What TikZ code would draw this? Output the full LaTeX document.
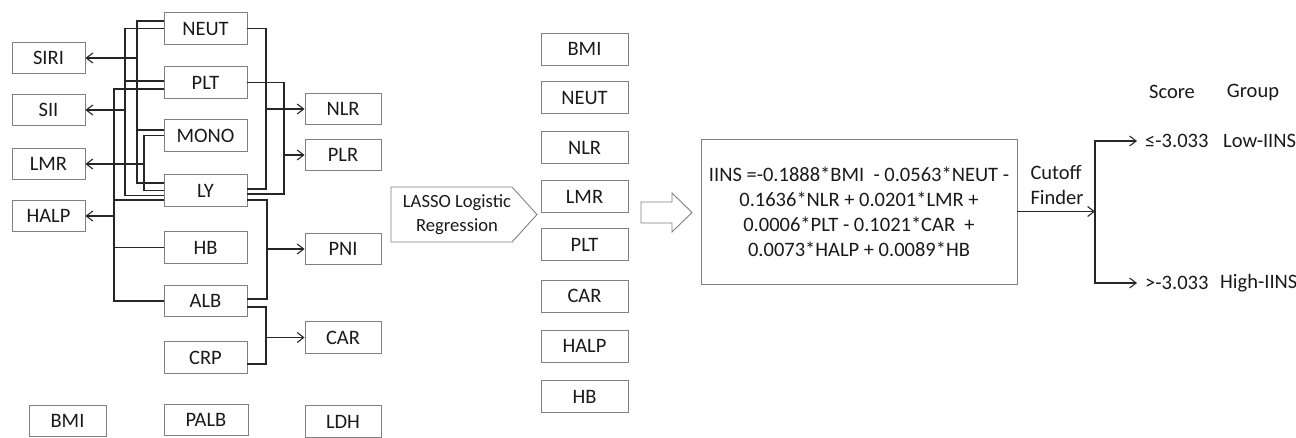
\documentclass[tikz,border=0pt]{standalone}
\usepackage{fontspec}
\setmainfont{Carlito}
\usetikzlibrary{arrows.meta}
\definecolor{boxgray}{HTML}{808080}
\definecolor{wirecol}{HTML}{262626}
\definecolor{textcol}{HTML}{1A1A1A}
\newcommand\lblfont{\fontsize{20.5}{25}\selectfont}
\newcommand\stepfont{\fontsize{18.6}{24}\selectfont}
\tikzset{
  box/.style={draw=boxgray, line width=0.9pt, inner sep=0pt, font=\lblfont,
    text=textcol, minimum height=31.5pt},
  leftbox/.style={box, minimum width=73pt},
  midbox/.style={box, minimum width=83pt},
  rightbox/.style={box, minimum width=76pt},
  selbox/.style={box, minimum width=87pt, minimum height=32pt},
  wire/.style={draw=wirecol, line width=1.2pt},
  arr/.style={wire, -{Straight Barb[length=6.5pt,width=10pt,line width=1.1pt]}},
  plain/.style={font=\lblfont, text=textcol, inner sep=0pt},
}
\begin{document}
\begin{tikzpicture}[x=1pt, y=-1pt]
\useasboundingbox (0,0) rectangle (1296,437);

% ---- raw indices ----
\node[leftbox] (SIRI) at (48.5,58) {SIRI};
\node[leftbox] (SII)  at (48.5,110) {SII};
\node[leftbox] (LMR)  at (48.5,164) {LMR};
\node[leftbox] (HALP) at (48.5,216) {HALP};

\node[midbox] (NEUT) at (205.5,28.5) {NEUT};
\node[midbox] (PLT)  at (205.5,82.5) {PLT};
\node[midbox] (MONO) at (205.5,135.5) {MONO};
\node[midbox] (LY)   at (205.5,190.5) {LY};
\node[midbox] (HB)   at (205.5,247.5) {HB};
\node[midbox] (ALB)  at (205.5,301) {ALB};
\node[midbox] (CRP)  at (205.5,357.5) {CRP};

\node[rightbox] (NLR) at (343,109) {NLR};
\node[rightbox] (PLR) at (343,155) {PLR};
\node[rightbox] (PNI) at (343,249) {PNI};
\node[rightbox] (CAR) at (343,337.5) {CAR};
\node[rightbox] (LDH) at (343,421.5) {LDH};

\node[box, minimum width=77pt] (BMI)  at (67.5,421) {BMI};
\node[box, minimum width=84pt] (PALB) at (206,420) {PALB};

% ---- bus lines ----
\coordinate (busA) at (137,0);
\coordinate (busB) at (125,0);
\coordinate (busC) at (144,0);
\coordinate (busD) at (114,0);
\coordinate (busE) at (266,0);
\coordinate (busF) at (284,0);
\coordinate (busG) at (267,0);
\coordinate (busH) at (266,0);

% SIRI = NEUT x MONO / LY
\coordinate (a1) at ([yshift=7.5pt]NEUT.west);
\coordinate (a2) at ([yshift=5.5pt]MONO.west);
\coordinate (a3) at ([yshift=7.5pt]LY.west);
\draw[wire] (a1) -- (a1 -| busA) -- (a3 -| busA) -- (a3);
\draw[wire] (a2) -- (a2 -| busA);
\draw[arr] (SIRI.east -| busA) -- (SIRI.east);

% SII = NEUT x PLT / LY
\coordinate (b1) at (NEUT.west);
\coordinate (b2) at ([yshift=1.5pt]PLT.west);
\coordinate (b3) at ([yshift=-5pt]LY.west);
\draw[wire] (b1) -- (b1 -| busB) -- (b3 -| busB) -- (b3);
\draw[wire] (b2) -- (b2 -| busB);
\draw[arr] (SII.east -| busB) -- (SII.east);

% LMR = LY / MONO
\coordinate (c1) at (MONO.west);
\coordinate (c2) at (LY.west);
\draw[wire] (c1) -- (c1 -| busC) -- (c2 -| busC) -- (c2);
\draw[arr] (LMR.east -| busC) -- (LMR.east);

% HALP = HB x ALB x LY / PLT
\coordinate (d1) at ([yshift=-6.5pt]PLT.west);
\coordinate (d2) at ([yshift=-9.5pt]LY.west);
\coordinate (d3) at (HB.west);
\coordinate (d4) at (ALB.west);
\draw[wire] (d1) -- (d1 -| busD) -- (d4 -| busD) -- (d4);
\draw[wire] (d2) -- (d2 -| busD);
\draw[wire] (d3) -- (d3 -| busD);
\draw[arr] (HALP.east -| busD) -- (HALP.east);

% NLR = NEUT / LY
\coordinate (e1) at (NEUT.east);
\coordinate (e2) at ([yshift=1.5pt]LY.east);
\draw[wire] (e1) -- (e1 -| busE) -- (e2 -| busE) -- (e2);
\draw[arr] (NLR.west -| busE) -- (NLR.west);

% PLR = PLT / LY
\coordinate (f1) at (PLT.east);
\coordinate (f2) at ([yshift=-3.5pt]LY.east);
\draw[wire] (f1) -- (f1 -| busF) -- (f2 -| busF) -- (f2);
\draw[arr] (PLR.west -| busF) -- (PLR.west);

% PNI = ALB + 5 x LY
\coordinate (g1) at ([yshift=-9.5pt]LY.east);
\coordinate (g2) at ([yshift=2pt]ALB.east);
\draw[wire] (g1) -- (g1 -| busG) -- (g2 -| busG) -- (g2);
\draw[arr] (PNI.west -| busG) -- (PNI.west);

% CAR = CRP / ALB
\coordinate (h1) at ([yshift=-6pt]ALB.east);
\coordinate (h2) at ([yshift=-6.5pt]CRP.east);
\draw[wire] (h1) -- (h1 -| busH) -- (h2 -| busH) -- (h2);
\draw[arr] (CAR.west -| busH) -- (CAR.west);

% ---- LASSO step ----
\draw[draw=boxgray, line width=0.9pt] (391,187) -- (512,187) -- (537,214.5)
  -- (512,242) -- (391,242) -- cycle;
\node[plain, font=\stepfont, align=center] (lasso) at (457,215) {LASSO Logistic\\Regression};

% ---- selected variables ----
\node[selbox] (sBMI)  at (584.5,49) {BMI};
\node[selbox] (sNEUT) at (584.5,97.5) {NEUT};
\node[selbox] (sNLR)  at (584.5,147.5) {NLR};
\node[selbox] (sLMR)  at (584.5,196.5) {LMR};
\node[selbox] (sPLT)  at (584.5,244.5) {PLT};
\node[selbox] (sCAR)  at (584.5,296) {CAR};
\node[selbox] (sHALP) at (584.5,346) {HALP};
\node[selbox] (sHB)   at (584.5,396.5) {HB};

% ---- hollow block arrow ----
\draw[draw=boxgray, line width=0.9pt, fill=white] (641,202) -- (672,202) -- (672,193)
  -- (692,212.5) -- (672,232) -- (672,223) -- (641,223) -- cycle;

% ---- score formula ----
\node[box, minimum width=316pt, minimum height=145pt, align=center] (formula) at (859,211.5)
  {IINS =-0.1888*BMI\ \ - 0.0563*NEUT -\\
   0.1636*NLR + 0.0201*LMR +\\
   0.0006*PLT - 0.1021*CAR\ \ +\\
   0.0073*HALP + 0.0089*HB};

% ---- cutoff split ----
\coordinate (split) at (1095,212);
\node[plain, align=left] (cut) at (1057,184.5) {Cutoff\\Finder};
\draw[arr] (formula.east) -- (formula.east -| split);

\node[plain] (score) at (1172,92) {Score};
\node[plain] (group) at (1253,92) {Group};
\node[plain, anchor=west] (low)   at (1145,141) {≤-3.033};
\node[plain, anchor=west] (lowg)  at (1223,141) {Low-IINS};
\node[plain, anchor=west] (high)  at (1145,283) {>-3.033};
\node[plain, anchor=west] (highg) at (1220,283) {High-IINS};

\draw[arr] (split) |- ([xshift=-8pt]low.west);
\draw[arr] (split) |- ([xshift=-8pt]high.west);
\end{tikzpicture}
\end{document}
